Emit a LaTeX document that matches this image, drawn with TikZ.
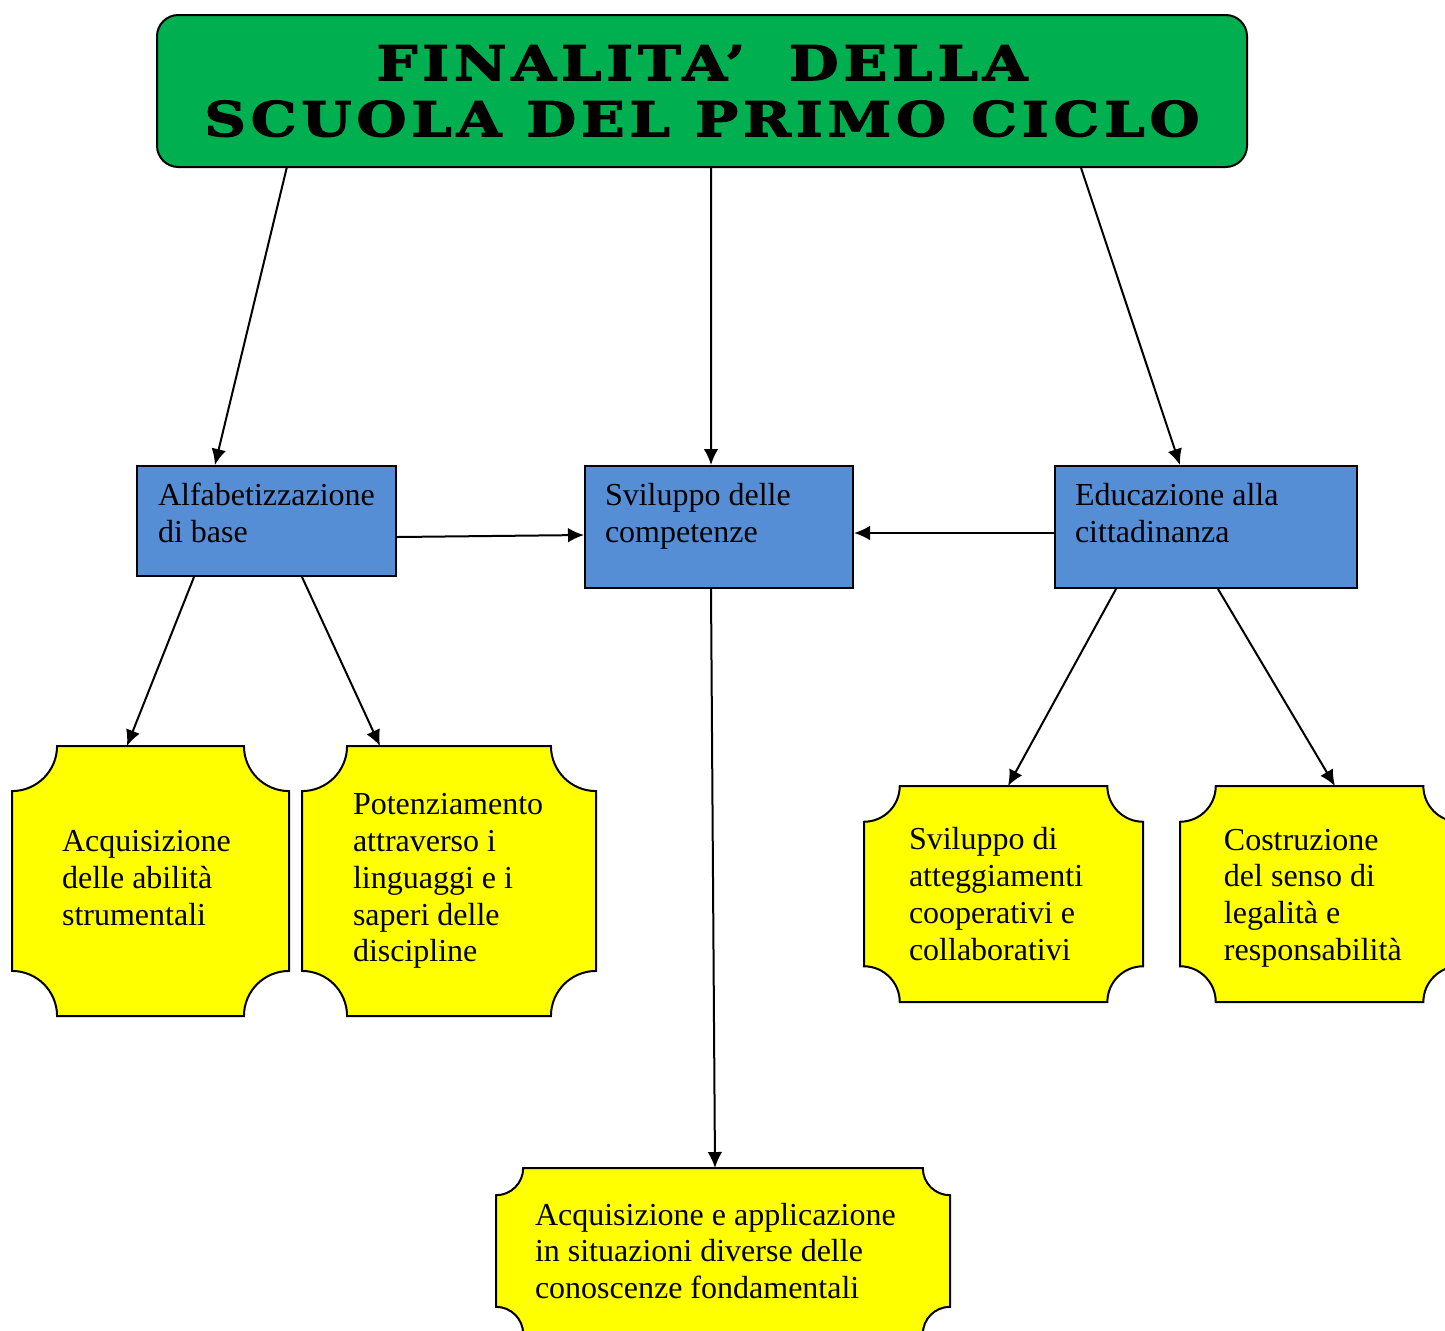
\documentclass[tikz,border=0pt]{standalone}
\usepackage{fontspec}
\setmainfont{Liberation Serif}
\newfontfamily\titlefont[LetterSpace=10,FakeStretch=1.2,BoldFeatures={FakeBold=2.5}]{DejaVu Serif}
\usetikzlibrary{positioning,arrows.meta}
\definecolor{titlegreen}{HTML}{00B050}
\definecolor{boxblue}{HTML}{558ED5}
\definecolor{plaqueyellow}{HTML}{FFFF00}
% plaque outline round an empty node: {node}{corner radius}
\newcommand\plaque[2]{%
\draw[fill=plaqueyellow] ([xshift=#2]#1.north west) -- ([xshift=-#2]#1.north east) arc (180:270:#2)
  -- ([yshift=#2]#1.south east) arc (90:180:#2) -- ([xshift=#2]#1.south west) arc (0:90:#2)
  -- ([yshift=-#2]#1.north west) arc (270:360:#2) -- cycle;}

\begin{document}
\begin{tikzpicture}[x=0.375pt,y=-0.375pt,>={Latex[length=6pt,width=5.5pt]},line width=0.75pt,
  font={\fontsize{12pt}{13.8pt}\selectfont},
  titlebox/.style={draw,fill=titlegreen,rounded corners=8pt,anchor=north west,inner sep=0pt,align=center},
  bluebox/.style={draw,fill=boxblue,anchor=north west,inner sep=0pt},
  plaquebox/.style={anchor=north west,inner sep=0pt},
  boxtext/.style={inner sep=0pt,align=left}]
\useasboundingbox (0,0) rectangle (1445,1330);

% title
\node[titlebox,minimum width=408.75pt,minimum height=57pt,font={\titlefont\bfseries\fontsize{18pt}{21pt}\selectfont}] (title) at (156,14)
  {FINALITA’\hspace{7pt} DELLA\\SCUOLA DEL PRIMO CICLO};

% blue boxes
\node[bluebox,minimum width=97.125pt,minimum height=41.25pt] (alfa) at (136,465) {};
\node[boxtext,below right=6.5pt and 7.9pt of alfa.north west] (alfa-t) {Alfabetizzazione\\di base};
\node[bluebox,minimum width=100.5pt,minimum height=45.75pt] (svil) at (584,465) {};
\node[boxtext,below right=6.5pt and 7.5pt of svil.north west] (svil-t) {Sviluppo delle\\competenze};
\node[bluebox,minimum width=113.25pt,minimum height=45.75pt] (educ) at (1054,465) {};
\node[boxtext,below right=6.5pt and 7.5pt of educ.north west] (educ-t) {Educazione alla\\cittadinanza};

% yellow plaques
\node[plaquebox,minimum width=103.125pt,minimum height=100.5pt] (abil) at (12,746) {};
\plaque{abil}{16.9pt}
\node[boxtext,right=18.4pt of abil.west,yshift=1pt] (abil-t) {Acquisizione\\delle abilità\\strumentali};
\node[plaquebox,minimum width=109.5pt,minimum height=100.5pt] (pote) at (302,746) {};
\plaque{pote}{16.9pt}
\node[boxtext,right=18.75pt of pote.west] (pote-t) {Potenziamento\\attraverso i\\linguaggi e i\\saperi delle\\discipline};
\node[plaquebox,minimum width=169.5pt,minimum height=61.5pt] (cono) at (496,1168) {};
\plaque{cono}{10.2pt}
\node[boxtext,right=14.25pt of cono.west] (cono-t) {Acquisizione e applicazione\\in situazioni diverse delle\\conoscenze fondamentali};
\node[plaquebox,minimum width=103.9pt,minimum height=80.25pt] (coop) at (864,786) {};
\plaque{coop}{13.4pt}
\node[boxtext,right=16.5pt of coop.west] (coop-t) {Sviluppo di\\atteggiamenti\\cooperativi e\\collaborativi};
\node[plaquebox,minimum width=103.9pt,minimum height=80.25pt] (lega) at (1180,786) {};
\plaque{lega}{13.4pt}
\node[boxtext,right=16.1pt of lega.west,yshift=-1.5pt] (lega-t) {Costruzione\\del senso di\\legalità e\\responsabilità};

% connectors
\draw[->] ([xshift=49pt]title.south west) -- ([xshift=29.6pt]alfa.north west);
\draw[->] ([xshift=3.4pt]title.south) -- ([xshift=-3pt]svil.north);
\draw[->] ([xshift=-62.6pt]title.south east) -- ([xshift=47.25pt]educ.north west);
\draw[->] ([yshift=-6pt]alfa.east) -- ([yshift=-3pt]svil.west);
\draw[->] ([yshift=-2.25pt]educ.west) -- ([yshift=-2.25pt]svil.east);
\draw[->] ([xshift=21.75pt]alfa.south west) -- ([xshift=43.1pt]abil.north west);
\draw[->] ([xshift=62.25pt]alfa.south west) -- ([xshift=29.25pt]pote.north west);
\draw[->] ([xshift=-3pt]svil.south) -- ([xshift=-3pt]cono.north);
\draw[->] ([xshift=23.25pt]educ.south west) -- ([xshift=54pt]coop.north west);
\draw[->] ([xshift=61.5pt]educ.south west) -- ([xshift=58.1pt]lega.north west);
\end{tikzpicture}
\end{document}
